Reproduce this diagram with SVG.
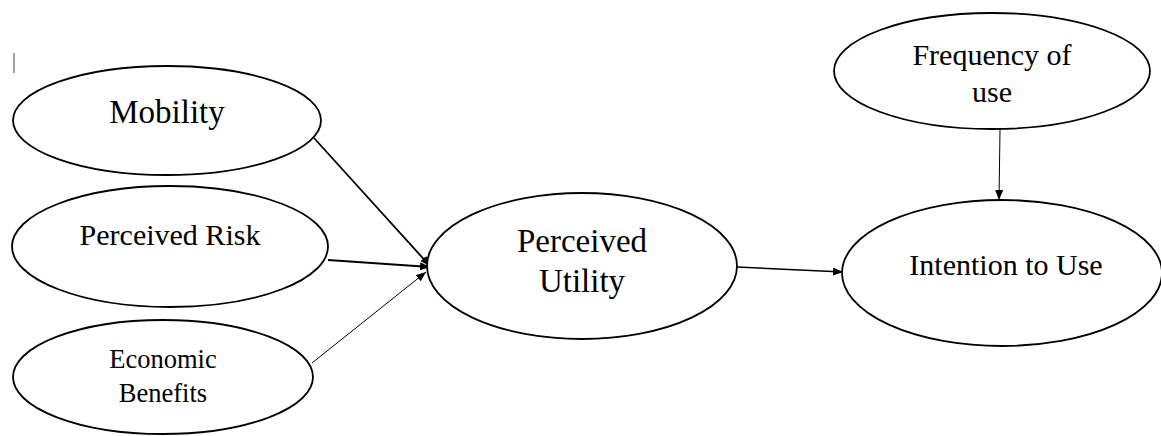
<svg xmlns="http://www.w3.org/2000/svg" width="1161" height="436" viewBox="0 0 1161 436">
<style>
.node ellipse{fill:#fff;stroke:#000;stroke-width:1.8}
.node text{font-family:'Liberation Serif','Times New Roman','DejaVu Serif',serif;fill:#000;text-anchor:middle}
.conn line{stroke:#000}
</style>
<defs>
<marker id="ah" viewBox="0 0 10 8" refX="10" refY="4" markerWidth="10" markerHeight="8" markerUnits="userSpaceOnUse" orient="auto">
<path d="M0,0 L10,4 L0,8 Z" fill="#000"/>
</marker>
</defs>
<rect width="1161" height="436" fill="#fff"/>
<line x1="14" y1="53" x2="14" y2="73" stroke="#444" stroke-width="1"/>
<g class="conn">
<line x1="314" y1="138" x2="430" y2="266" stroke-width="1.8" marker-end="url(#ah)"/>
<line x1="328" y1="260" x2="430" y2="267" stroke-width="2" marker-end="url(#ah)"/>
<line x1="312" y1="363" x2="426" y2="272" stroke-width="1" marker-end="url(#ah)"/>
<line x1="737" y1="267" x2="843" y2="272" stroke-width="1.6" marker-end="url(#ah)"/>
<line x1="1000" y1="130" x2="999" y2="200" stroke-width="1" marker-end="url(#ah)"/>
</g>
<g id="mobility" class="node">
<ellipse cx="167" cy="120.5" rx="154" ry="54.5"/>
<text x="167" y="123" font-size="33" font-family="Liberation Serif, serif">Mobility</text>
</g>
<g id="perceived-risk" class="node">
<ellipse cx="170" cy="246.5" rx="158" ry="60.5"/>
<text x="170" y="245" font-size="30">Perceived Risk</text>
</g>
<g id="economic-benefits" class="node">
<ellipse cx="163" cy="377" rx="150" ry="57"/>
<text x="163" y="368" font-size="26.5">Economic</text>
<text x="163" y="402" font-size="26.5">Benefits</text>
</g>
<g id="perceived-utility" class="node">
<ellipse cx="582" cy="266" rx="155" ry="73"/>
<text x="582" y="252" font-size="33">Perceived</text>
<text x="582" y="292" font-size="33">Utility</text>
</g>
<g id="frequency-of-use" class="node">
<ellipse cx="992" cy="71" rx="158" ry="58"/>
<text x="992" y="65" font-size="30">Frequency of</text>
<text x="992" y="102" font-size="30">use</text>
</g>
<g id="intention-to-use" class="node">
<ellipse cx="1002" cy="273" rx="160" ry="73"/>
<text x="1006" y="275" font-size="30">Intention to Use</text>
</g>
</svg>
